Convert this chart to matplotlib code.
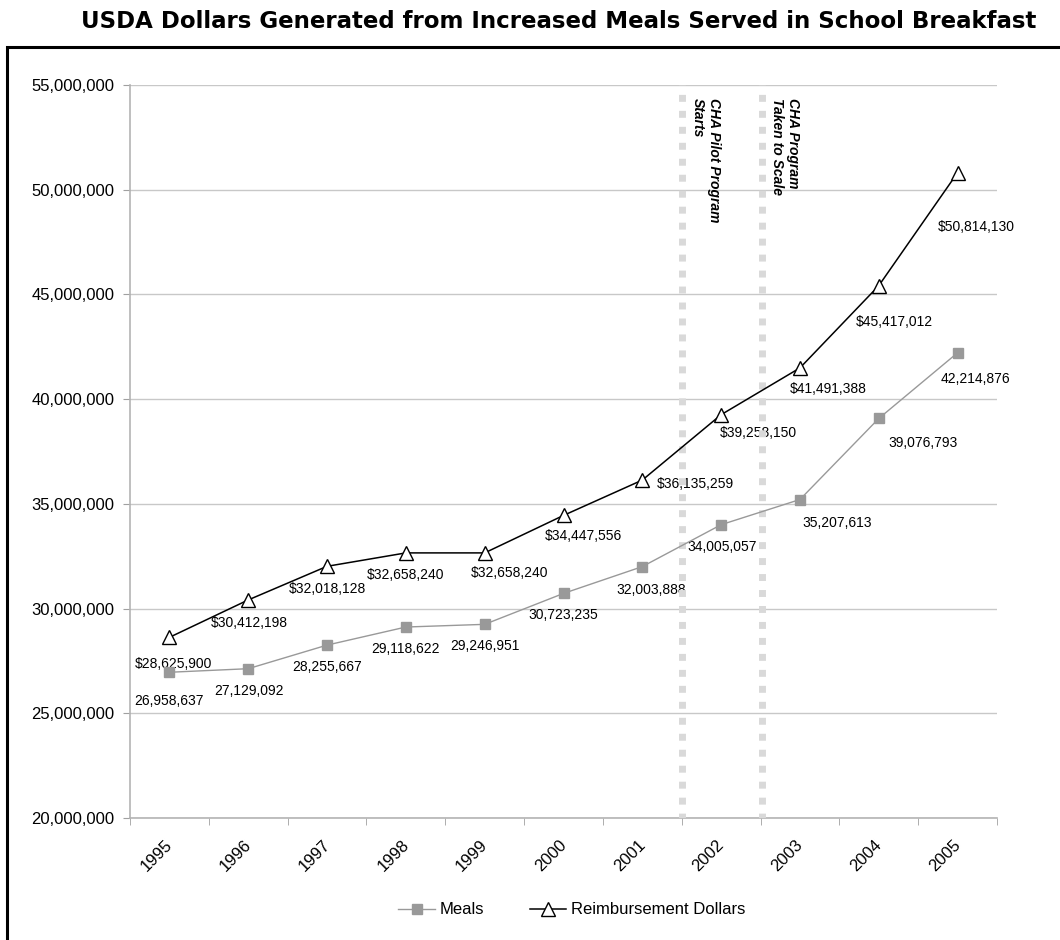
import numpy as np
import matplotlib
matplotlib.use("Agg")
from matplotlib import pyplot as plt
from matplotlib.patches import Rectangle
from matplotlib.ticker import FuncFormatter, FixedLocator

plt.rcParams["font.family"] = ["Liberation Sans", "DejaVu Sans"]

years = ["1995", "1996", "1997", "1998", "1999", "2000",
         "2001", "2002", "2003", "2004", "2005"]
meals = [26958637, 27129092, 28255667, 29118622, 29246951, 30723235,
         32003888, 34005057, 35207613, 39076793, 42214876]
dollars = [28625900, 30412198, 32018128, 32658240, 32658240, 34447556,
           36135259, 39258150, 41491388, 45417012, 50814130]

# label offsets in pixels (right, down) - placed by hand in the original
meal_off = [(0, 29), (1, 22), (0, 22), (0, 22), (0, 22), (0, 22),
            (9, 23), (1, 22), (37, 23), (44, 25), (18, 26)]
dollar_off = [(4, 27), (1, 23), (0, 23), (0, 22), (25, 20), (20, 21),
              (53, 4), (37, 18), (28, 21), (16, 36), (19, 54)]

fig = plt.figure(figsize=(10.6, 9.4), dpi=100)
ax = fig.add_axes([130/1060, 122/940, 867/1060, 733/940])

x = np.arange(len(years))
grey = "#999999"

ax.plot(x, meals, color=grey, lw=1.0, marker="s", markersize=6.5,
        markerfacecolor=grey, markeredgecolor=grey, label="Meals", zorder=5)
ax.plot(x, dollars, color="black", lw=1.1, marker="^", markersize=10,
        markerfacecolor="white", markeredgecolor="black", markeredgewidth=1.0,
        label="Reimbursement Dollars", zorder=6)

for i in x:
    dx, dy = meal_off[i]
    ax.annotate(f"{meals[i]:,}", (i, meals[i]), xytext=(dx*0.72, -dy*0.72),
                textcoords="offset points", ha="center", va="center", fontsize=10)
    dx, dy = dollar_off[i]
    ax.annotate(f"${dollars[i]:,}", (i, dollars[i]), xytext=(dx*0.72, -dy*0.72),
                textcoords="offset points", ha="center", va="center", fontsize=10)

# program markers
for xv in (6.5, 7.52):
    ax.axvline(xv, color="#d9d9d9", lw=5, linestyle=(0.3, (1, 1.3)),
               solid_capstyle="butt", dash_capstyle="butt", zorder=4)
ax.text(6.5 + 9/78.8, 0.982, "CHA Pilot Program\nStarts", rotation=-90,
        transform=ax.get_xaxis_transform(), ha="left", va="top",
        fontsize=10, fontweight="bold", fontstyle="italic")
ax.text(7.52 + 8/78.8, 0.982, "CHA Program\nTaken to Scale", rotation=-90,
        transform=ax.get_xaxis_transform(), ha="left", va="top",
        fontsize=10, fontweight="bold", fontstyle="italic")

ax.set_xlim(-0.5, len(years) - 0.5)
ax.set_ylim(20000000, 55000000)
ax.set_yticks(np.arange(20000000, 55000001, 5000000))
ax.yaxis.set_major_formatter(FuncFormatter(lambda v, p: f"{int(v):,}"))
ax.grid(axis="y", color="#c8c8c8", lw=1)
ax.set_axisbelow(True)

ax.set_xticks(x - 0.06)
ax.set_xticklabels(years, rotation=45, ha="right", rotation_mode="anchor")
ax.xaxis.set_minor_locator(FixedLocator(np.arange(-0.5, len(years), 1)))
ax.tick_params(axis="x", which="major", length=0, pad=14, labelsize=12)
ax.tick_params(axis="x", which="minor", length=5, color="#a0a0a0")
ax.tick_params(axis="y", length=5, color="#a0a0a0", labelsize=12, pad=6)

for s in ("top", "right"):
    ax.spines[s].set_visible(False)
for s in ("left", "bottom"):
    ax.spines[s].set_color("#b4b4b4")
    ax.spines[s].set_linewidth(1.2)

fig.legend(loc="center", bbox_to_anchor=(572/1060, 30/940), ncol=2, frameon=False,
           fontsize=12, handlelength=2.2, handletextpad=0.3, columnspacing=2.7)

fig.text(559/1060, 1 - 21/940, "USDA Dollars Generated from Increased Meals Served in School Breakfast",
         ha="center", va="center", fontsize=16.5, fontweight="bold", family="DejaVu Sans")

fig.add_artist(Rectangle((7/1060, -0.05), 1.2, 0.95 + 0.05, transform=fig.transFigure,
                         fill=False, edgecolor="black", lw=2.2))

plt.savefig("out.png", dpi=100)
